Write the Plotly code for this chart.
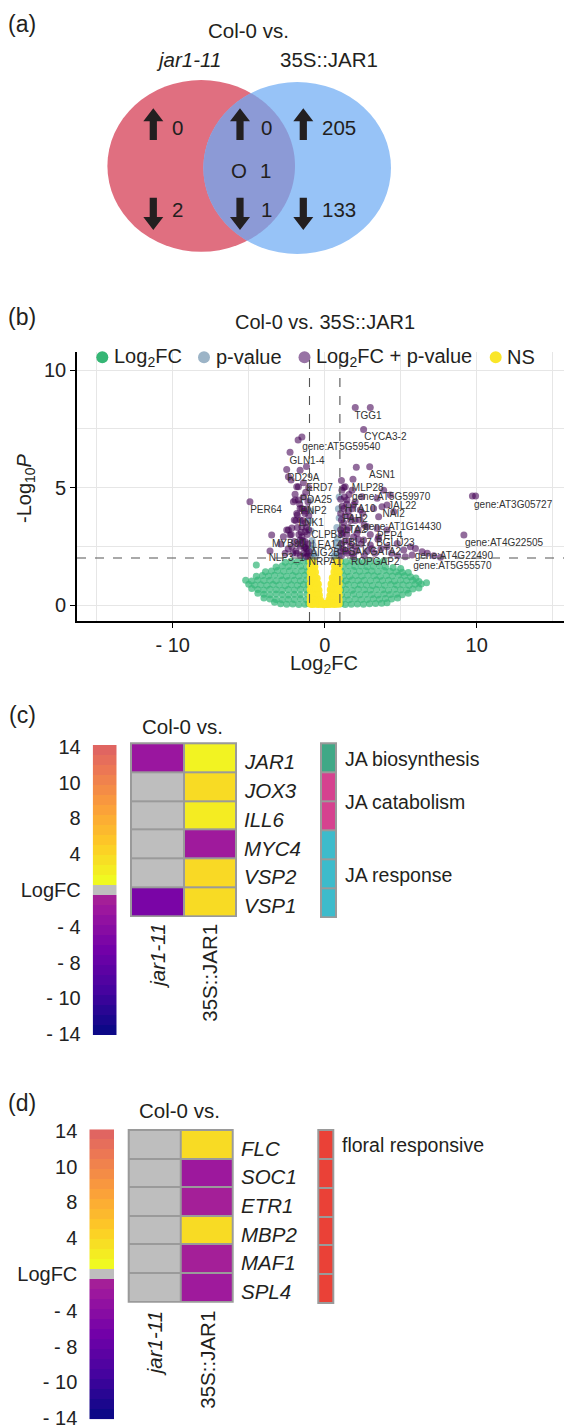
import math
import plotly.graph_objects as go

W, H = 572, 1427
OFF = 8  # browser body margin
FONT = "Liberation Sans, Arial, Helvetica, sans-serif"
INK = "#231F20"


def px(x):
    return (x - OFF) / W


def py(y):
    return 1 - (y - OFF) / H


# ======================= DATA =======================
# (a) Venn counts: [jar1-11 only, shared, 35S::JAR1 only]
VENN_TITLE = "Col-0 vs."
VENN_GROUPS = ["jar1-11", "35S::JAR1"]
VENN_UP = [0, 0, 205]
VENN_DOWN = [2, 1, 133]
VENN_OPPOSITE = 1

# (b) volcano  (log2FC, -log10 P)
FC_CUTOFF = 1.0
P_CUTOFF = 2.0
GREEN_POINTS = [
    (-3.3, 0.12), (-2.9, 0.05), (-2.5, 0.03), (-2.1, 0.04), (-1.7, 0.02), (-1.3, 0.03), (-1.05, 0.06),
    (1.05, 0.05), (1.35, 0.02), (1.75, 0.03), (2.15, 0.04), (2.55, 0.03), (2.95, 0.05), (3.35, 0.06), (3.75, 0.08), (4.1, 0.1),
    (-4.0, 0.3), (-3.6, 0.26), (-3.2, 0.24), (-2.8, 0.22), (-2.4, 0.25), (-2.0, 0.23), (-1.6, 0.27), (-1.2, 0.24),
    (1.2, 0.25), (1.6, 0.22), (2.0, 0.26), (2.4, 0.24), (2.8, 0.23), (3.2, 0.27), (3.6, 0.25), (4.0, 0.28), (4.4, 0.26), (4.8, 0.3),
    (-4.4, 0.5), (-4.0, 0.46), (-3.6, 0.44), (-3.2, 0.47), (-2.8, 0.45), (-2.4, 0.43), (-2.0, 0.46), (-1.6, 0.44), (-1.15, 0.47),
    (1.1, 0.45), (1.5, 0.43), (1.9, 0.47), (2.3, 0.44), (2.7, 0.46), (3.1, 0.45), (3.5, 0.43), (3.9, 0.47), (4.3, 0.45), (4.7, 0.46), (5.1, 0.44), (5.5, 0.5),
    (-4.8, 0.7), (-4.4, 0.66), (-4.0, 0.64), (-3.6, 0.67), (-3.2, 0.65), (-2.8, 0.63), (-2.4, 0.66), (-2.0, 0.64), (-1.6, 0.67), (-1.2, 0.65),
    (1.05, 0.64), (1.4, 0.66), (1.8, 0.63), (2.2, 0.67), (2.6, 0.65), (3.0, 0.64), (3.4, 0.66), (3.8, 0.65), (4.2, 0.63), (4.6, 0.67),
    (5.0, 0.65), (5.4, 0.64), (5.8, 0.68), (6.2, 0.72),
    (-5.0, 0.88), (-4.6, 0.85), (-4.2, 0.86), (-3.8, 0.84), (-3.4, 0.87), (-3.0, 0.85), (-2.6, 0.83), (-2.2, 0.86), (-1.8, 0.84), (-1.4, 0.87), (-1.05, 0.85),
    (1.15, 0.85), (1.55, 0.87), (1.95, 0.84), (2.35, 0.86), (2.75, 0.85), (3.15, 0.83), (3.55, 0.86), (3.95, 0.84), (4.35, 0.87), (4.75, 0.85),
    (5.15, 0.86), (5.55, 0.84), (5.95, 0.88), (6.35, 0.9), (6.7, 0.95),
    (-5.2, 1.05), (-4.8, 1.02), (-4.4, 1.06), (-4.0, 1.04), (-3.6, 1.05), (-3.2, 1.03), (-2.8, 1.06), (-2.4, 1.04), (-2.0, 1.05), (-1.6, 1.03), (-1.2, 1.06),
    (1.05, 1.05), (1.4, 1.03), (1.8, 1.06), (2.2, 1.04), (2.6, 1.05), (3.0, 1.03), (3.4, 1.06), (3.8, 1.04), (4.2, 1.05), (4.6, 1.02),
    (5.0, 1.06), (5.4, 1.04), (5.8, 1.05), (6.2, 1.0),
    (-4.5, 1.22), (-4.1, 1.26), (-3.7, 1.24), (-3.3, 1.27), (-2.9, 1.25), (-2.5, 1.23), (-2.1, 1.26), (-1.7, 1.24), (-1.3, 1.27),
    (1.25, 1.25), (1.65, 1.23), (2.05, 1.26), (2.45, 1.24), (2.85, 1.27), (3.25, 1.25), (3.65, 1.23), (4.05, 1.26), (4.45, 1.24),
    (4.85, 1.27), (5.25, 1.25), (5.65, 1.2), (6.0, 1.15),
    (-3.9, 1.42), (-3.5, 1.45), (-3.1, 1.47), (-2.7, 1.44), (-2.3, 1.46), (-1.9, 1.43), (-1.5, 1.46), (-1.1, 1.44),
    (1.1, 1.45), (1.5, 1.43), (1.9, 1.47), (2.3, 1.44), (2.7, 1.46), (3.1, 1.45), (3.5, 1.43), (3.9, 1.47), (4.3, 1.44), (4.7, 1.42), (5.1, 1.4), (5.5, 1.38),
    (-4.5, 1.7), (-3.2, 1.62), (-2.8, 1.66), (-2.4, 1.64), (-2.0, 1.67), (-1.6, 1.65), (-1.2, 1.63),
    (1.2, 1.65), (1.6, 1.67), (2.0, 1.64), (2.4, 1.66), (2.8, 1.63), (3.2, 1.65), (3.6, 1.67), (4.0, 1.62), (4.5, 1.6), (5.0, 1.55),
    (-2.6, 1.82), (-2.2, 1.86), (-1.8, 1.84), (-1.4, 1.87), (-1.05, 1.85),
    (1.05, 1.86), (1.4, 1.84), (1.8, 1.87), (2.2, 1.85), (2.6, 1.83), (3.0, 1.86), (3.5, 1.84), (3.9, 1.88),
]
YELLOW_POINTS = [
    (-0.92, 1.9), (-0.78, 1.88), (0.78, 1.9), (0.92, 1.88),
    (-0.92, 1.65), (-0.8, 1.66), (-0.68, 1.63), (0.68, 1.64), (0.8, 1.65), (0.92, 1.66),
    (-0.92, 1.4), (-0.8, 1.42), (-0.64, 1.39), (0.64, 1.41), (0.8, 1.4), (0.92, 1.38),
    (-0.92, 1.15), (-0.8, 1.14), (-0.66, 1.16), (-0.53, 1.13), (0.53, 1.15), (0.66, 1.14), (0.8, 1.16), (0.92, 1.15),
    (-0.92, 0.9), (-0.8, 0.91), (-0.66, 0.89), (-0.54, 0.9), (-0.45, 0.88), (0.45, 0.9), (0.54, 0.89), (0.66, 0.91), (0.8, 0.9), (0.92, 0.88),
    (-0.92, 0.65), (-0.8, 0.66), (-0.66, 0.64), (-0.53, 0.65), (-0.41, 0.63), (0.4, 0.65), (0.53, 0.64), (0.66, 0.66), (0.8, 0.65), (0.92, 0.64),
    (-0.92, 0.4), (-0.8, 0.41), (-0.66, 0.39), (-0.52, 0.4), (-0.38, 0.42), (0.37, 0.4), (0.52, 0.41), (0.66, 0.39), (0.8, 0.4), (0.92, 0.42),
    (-0.92, 0.2), (-0.8, 0.21), (-0.66, 0.19), (-0.52, 0.2), (-0.4, 0.21), (-0.3, 0.19), (0.3, 0.2), (0.4, 0.19), (0.52, 0.21), (0.66, 0.2), (0.8, 0.19), (0.92, 0.21),
    (-0.92, 0.05), (-0.8, 0.04), (-0.66, 0.06), (-0.52, 0.05), (-0.4, 0.04), (-0.28, 0.06), (-0.16, 0.05), (-0.05, 0.03),
    (0.05, 0.04), (0.16, 0.05), (0.28, 0.04), (0.4, 0.06), (0.52, 0.05), (0.66, 0.04), (0.8, 0.06), (0.92, 0.05),
]
BLUE_POINTS = [
    (-0.95, 2.1), (-0.88, 2.4), (-0.83, 2.75), (-0.9, 3.15), (-0.95, 3.6), (-0.72, 2.2), (-0.62, 2.05), (-0.9, 4.0), (-0.78, 2.55), (-0.95, 4.45),
    (0.95, 2.1), (0.9, 2.45), (0.85, 2.85), (0.8, 3.3), (0.95, 3.7), (0.72, 2.2), (0.9, 4.1), (0.78, 2.65), (0.62, 2.08), (0.95, 4.6),
]
PURPLE_POINTS = [
    (2.01, 8.41), (3.0, 8.41), (2.56, 7.47), (-1.75, 7.02), (-1.5, 7.15), (-2.28, 6.5), (-2.5, 5.77), (-1.62, 5.74),
    (-2.21, 5.32), (2.08, 5.86), (2.96, 5.89), (1.86, 5.35),
    (-4.92, 4.4), (9.72, 4.64), (9.93, 4.64), (9.16, 2.98), (-3.49, 2.98), (-3.6, 2.3), (7.18, 2.1),
    (-1.84, 5.03), (-1.95, 4.72), (-2.06, 4.4), (-1.73, 4.47), (-1.62, 4.11), (-1.8, 3.83), (-2.0, 3.62), (-2.39, 3.19),
    (-2.16, 3.28), (-1.5, 3.33), (-2.72, 2.91), (-2.5, 3.19),
    (1.35, 5.03), (1.13, 4.89), (1.8, 4.89), (2.45, 4.61), (3.45, 4.54), (3.88, 4.89), (1.46, 4.47), (1.9, 4.26), (1.24, 4.11),
    (2.34, 4.04), (3.22, 4.11), (3.55, 3.76), (4.1, 4.26), (1.68, 3.76), (1.1, 3.62), (2.34, 3.62), (2.79, 3.33), (3.45, 3.26),
    (4.1, 3.19), (1.46, 3.19), (1.1, 3.05),
    (3.77, 4.18), (4.32, 4.68), (4.54, 3.97), (3.55, 2.91), (5.64, 2.48), (6.41, 2.27), (7.62, 2.03), (5.2, 2.34), (5.97, 2.41),
    (4.77, 2.62), (4.1, 2.48), (3.0, 2.55), (2.56, 2.77), (2.12, 3.05), (6.75, 2.2), (5.75, 2.13),
    (-2.28, 2.98), (-2.16, 2.48), (-1.84, 2.2), (-1.62, 2.77), (-1.84, 3.9), (-1.62, 3.62), (-1.29, 3.12), (-1.29, 2.48),
    (-1.18, 2.2), (-1.5, 4.11), (-1.95, 4.47), (-2.39, 5.46), (-1.73, 5.03),
    (-1.1, 2.1), (-1.2, 2.4), (-1.3, 2.7), (-1.15, 3.0), (-1.4, 2.2), (-1.6, 2.5), (-1.7, 3.0), (-1.25, 3.5), (-1.05, 3.8),
    (-1.35, 4.0), (-1.1, 4.4), (-1.9, 2.3), (-2.0, 2.7), (-2.4, 2.4), (-2.6, 2.2), (-1.5, 2.9), (-1.8, 3.3), (-1.2, 2.05),
    (-2.9, 2.6), (-1.45, 3.6),
    (-1.05, 2.3), (-1.1, 2.6), (-1.05, 3.2), (-1.2, 3.3), (-1.3, 3.9), (-1.15, 4.1), (-1.4, 4.6), (-1.6, 2.1), (-1.75, 2.6),
    (-1.35, 2.45), (-1.45, 2.75), (-1.55, 3.1), (-1.9, 3.6), (-2.2, 3.0), (-2.1, 2.2), (-1.65, 4.3), (-1.25, 4.8), (-1.05, 5.0),
    (-1.4, 5.2), (-1.2, 5.9),
    (1.1, 2.1), (1.2, 2.4), (1.3, 2.7), (1.15, 3.0), (1.5, 2.2), (1.7, 2.5), (1.9, 2.9), (1.25, 3.5), (1.05, 3.9), (1.45, 4.3),
    (2.1, 2.3), (2.4, 2.6), (2.8, 2.3), (3.3, 2.2), (3.7, 2.4), (4.4, 2.2), (1.6, 3.3), (2.0, 3.6), (1.3, 4.6), (1.1, 5.3),
    (2.5, 3.9), (3.0, 3.0), (1.8, 4.1), (4.8, 2.1), (5.3, 2.05),
    (1.05, 2.3), (1.1, 2.6), (1.05, 3.2), (1.2, 3.3), (1.35, 3.8), (1.15, 4.2), (1.4, 2.3), (1.6, 2.7), (1.45, 3.0), (1.8, 2.2),
    (2.0, 2.5), (2.2, 2.8), (1.7, 3.6), (2.2, 3.2), (2.6, 3.4), (1.55, 4.0), (1.25, 5.0), (1.6, 4.7), (2.0, 4.4), (1.05, 4.5),
    (1.9, 2.05), (2.6, 2.1), (3.1, 2.4), (3.5, 2.8),
]
GENE_LABELS = [
    ("TGG1", 2.85, 8.04), ("CYCA3-2", 3.99, 7.11), ("gene:AT5G59540", 1.09, 6.69), ("GLN1-4", -1.16, 6.1),
    ("RD29A", -1.4, 5.39), ("ASN1", 3.78, 5.53), ("MLP28", 2.83, 4.97), ("ERD7", -0.34, 4.97),
    ("gene:AT5G59970", 4.37, 4.58), ("PER64", -3.86, 4.01), ("gene:AT3G05727", 12.4, 4.23), ("JAL22", 5.1, 4.21),
    ("NAI2", 4.54, 3.86), ("HTA10", 2.34, 4.07), ("PNP2", -0.74, 4.0), ("PDA25", -0.56, 4.47), ("FAH2", 2.01, 3.65),
    ("LNK1", -0.89, 3.45), ("gene:AT1G14430", 5.1, 3.31), ("LTA2", 2.01, 3.19), ("gene:AT4G22505", 11.8, 2.6),
    ("PEP4", 4.28, 2.91), ("CLPB3", 0.15, 2.98), ("MYB90", -2.39, 2.58), ("FBL17", 2.13, 2.6), ("BGLU23", 4.65, 2.6),
    ("LEA14", 0.15, 2.52), ("PSAK", 2.01, 2.23), ("GATA2", 3.99, 2.23), ("AIG2B", 0.03, 2.2),
    ("gene:AT4G22490", 8.5, 2.06), ("NLP3_1", -2.5, 1.96), ("NRPA1", 0.03, 1.8), ("ROPGAP2", 3.33, 1.8),
    ("gene:AT5G55570", 8.4, 1.63),
]
VOLCANO_TITLE = "Col-0 vs. 35S::JAR1"
LEGEND_NAMES = ["Log<sub>2</sub>FC", "p-value", "Log<sub>2</sub>FC + p-value", "NS"]
X_TICKVALS = [-10, 0, 10]
X_TICKTEXT = ["- 10", "0", "10"]
Y_TICKVALS = [0, 5, 10]

# (c) / (d) heatmaps (logFC, 0 = not significant)
HEAT_COLS = ["jar1-11", "35S::JAR1"]
GENES_C = ["JAR1", "JOX3", "ILL6", "MYC4", "VSP2", "VSP1"]
HEAT_Z_C = [[-2.2, 1.5], [0, 3.3], [0, 2.0], [0, -1.6], [0, 3.5], [-5.2, 3.3]]
ROW_CAT_C = ["JA biosynthesis", "JA catabolism", "JA catabolism", "JA response", "JA response", "JA response"]
GENES_D = ["FLC", "SOC1", "ETR1", "MBP2", "MAF1", "SPL4"]
HEAT_Z_D = [[0, 3.3], [0, -1.9], [0, -1.0], [0, 3.3], [0, -1.0], [0, -1.6]]
ROW_CAT_D = ["floral responsive"] * 6
CAT_COLORS = {"JA biosynthesis": "#40A886", "JA catabolism": "#D5428F",
              "JA response": "#3DBBCB", "floral responsive": "#EA4137"}
CB_LEVELS = [-14, -13, -12, -11, -10, -9, -8, -7, -6, -5, -4, -3, -2, -1, 0,
             1, 2, 3, 4, 5, 6, 7, 8, 9, 10, 11, 12, 13, 14]
CB_TICKTEXT = ["14", "10", "8", "4", "LogFC", "- 4", "- 8", "- 10", "- 14"]
CB_TICKPOS = [14.3, 10.75, 7.2, 3.6, 0, -3.65, -7.25, -10.8, -14.4]

# ======================= COLOURS =======================
PLASMA = ["#0d0887", "#46039f", "#7201a8", "#9c179e", "#bd3786",
          "#d8576b", "#ed7953", "#fb9f3a", "#fdca26", "#f0f921"]


def hex2rgb(h):
    h = h.lstrip("#")
    return [int(h[i:i + 2], 16) for i in (0, 2, 4)]


def plasma(t):
    t = max(0.0, min(1.0, t))
    pos = t * (len(PLASMA) - 1)
    i = min(int(pos), len(PLASMA) - 2)
    f = pos - i
    a, b = hex2rgb(PLASMA[i]), hex2rgb(PLASMA[i + 1])
    c = [round(a[k] + (b[k] - a[k]) * f) for k in range(3)]
    return "rgb(%d,%d,%d)" % tuple(c)


ZMIN, ZMAX = -14.5, 14.5
GRAY = "#BEBEBE"


def norm(v):
    return (v - ZMIN) / (ZMAX - ZMIN)


CS = []
for v in [-14.5] + list(range(-14, 0)) + [-0.51]:
    t = 0.36 * (v + 14) / 13
    CS.append([norm(v), plasma(min(0.36, max(0.0, t)))])
CS.append([norm(-0.5), GRAY])
CS.append([norm(0.5), GRAY])
for v in [0.51] + list(range(1, 15)) + [14.5]:
    t = 1 - 0.4 * (max(v, 1) - 1) / 13
    CS.append([norm(v), plasma(max(0.6, t))])
CS[0][0] = 0.0
CS[-1][0] = 1.0

fig = go.Figure()


# ======================= (b) volcano =======================
def add_pts(pts, color, opacity, size=7):
    fig.add_trace(go.Scatter(
        x=[p[0] for p in pts], y=[p[1] for p in pts], mode="markers",
        marker=dict(color=color, size=size, opacity=opacity, line=dict(width=0)),
        xaxis="x", yaxis="y", showlegend=False, hoverinfo="skip"))


add_pts(GREEN_POINTS, "#35B779", 0.72)
add_pts(YELLOW_POINTS, "#FDE725", 0.95, 8)
add_pts(BLUE_POINTS, "#31688E", 0.45)
add_pts(PURPLE_POINTS, "#440154", 0.58)
fig.add_trace(go.Scatter(
    x=[g[1] for g in GENE_LABELS], y=[g[2] for g in GENE_LABELS],
    text=[g[0] for g in GENE_LABELS], mode="text",
    textfont=dict(family=FONT, size=10, color="#333333"),
    xaxis="x", yaxis="y", showlegend=False, hoverinfo="skip"))


# ======================= heatmaps =======================
def heat_block(genes, z, rowcat, xa, ya, xcb, ycb, xc, yc):
    fig.add_trace(go.Heatmap(x=HEAT_COLS, y=genes, z=z, colorscale=CS, zmin=ZMIN, zmax=ZMAX,
                             showscale=False, xgap=2, ygap=2, xaxis=xa, yaxis=ya, hoverinfo="skip"))
    fig.add_trace(go.Heatmap(x=[0], y=CB_LEVELS, z=[[v] for v in CB_LEVELS], colorscale=CS,
                             zmin=ZMIN, zmax=ZMAX, showscale=False, xaxis=xcb, yaxis=ycb, hoverinfo="skip"))
    cats = list(dict.fromkeys(rowcat))
    idx = [cats.index(c) for c in rowcat]
    n = max(len(cats) - 1, 1)
    cscale = [[i / n, CAT_COLORS[c]] for i, c in enumerate(cats)]
    if len(cats) == 1:
        cscale.append([1.0, CAT_COLORS[cats[0]]])
    fig.add_trace(go.Heatmap(x=[0], y=list(range(len(rowcat))), z=[[i] for i in idx],
                             colorscale=cscale, zmin=0, zmax=n, showscale=False,
                             xgap=2, ygap=2, xaxis=xc, yaxis=yc, hoverinfo="skip"))
    return cats, idx


cats_c, idx_c = heat_block(GENES_C, HEAT_Z_C, ROW_CAT_C, "x2", "y2", "x3", "y3", "x4", "y4")
cats_d, idx_d = heat_block(GENES_D, HEAT_Z_D, ROW_CAT_D, "x5", "y5", "x6", "y6", "x7", "y7")

# ======================= layout =======================
hidden = dict(showticklabels=False, showgrid=False, zeroline=False, showline=False, ticks="")
grid = "#E6E6E6"
TICK_FONT = dict(size=20, color="#222")
cb_axis = dict(range=[-14.5, 14.5], tickmode="array", tickvals=CB_TICKPOS, ticktext=CB_TICKTEXT,
               showgrid=False, zeroline=False, showline=False, ticks="",
               ticklabelstandoff=11, tickfont=TICK_FONT)
layout = dict(
    width=W, height=H, margin=dict(l=0, r=0, t=0, b=0, autoexpand=False),
    paper_bgcolor="white", plot_bgcolor="white", showlegend=False,
    font=dict(family=FONT, color=INK, size=20),
    xaxis=dict(domain=[px(77), px(580)], range=[-16.3, 16.8], anchor="y",
               tickmode="array", tickvals=X_TICKVALS, ticktext=X_TICKTEXT,
               showgrid=True, gridcolor=grid, gridwidth=1, zeroline=False,
               showline=True, linecolor="black", linewidth=1.6,
               ticks="outside", ticklen=5, tickwidth=1.4, tickcolor="black",
               tickfont=TICK_FONT,
               minor=dict(tickmode="array", tickvals=[-15, -5, 5, 15], showgrid=True,
                          gridcolor=grid, gridwidth=1, ticks="")),
    yaxis=dict(domain=[py(621), py(352)], range=[-0.68, 10.77], anchor="x",
               tickmode="array", tickvals=Y_TICKVALS,
               showgrid=True, gridcolor=grid, gridwidth=1, zeroline=False,
               showline=True, linecolor="black", linewidth=1.6,
               ticks="outside", ticklen=5, tickwidth=1.4, tickcolor="black",
               tickfont=TICK_FONT,
               minor=dict(tickmode="array", tickvals=[2.5, 7.5], showgrid=True,
                          gridcolor=grid, gridwidth=1, ticks="")),
    # (c)
    xaxis2=dict(domain=[px(131), px(236)], anchor="y2", range=[-0.5, 1.5], **hidden),
    yaxis2=dict(domain=[py(916), py(743.3)], anchor="x2", range=[5.5, -0.5], **hidden),
    xaxis3=dict(domain=[px(92.7), px(116.7)], anchor="y3", **hidden),
    yaxis3=dict(domain=[py(1035), py(745)], anchor="x3", **cb_axis),
    xaxis4=dict(domain=[px(321), px(336)], anchor="y4", **hidden),
    yaxis4=dict(domain=[py(917), py(743.3)], anchor="x4", range=[5.5, -0.5], **hidden),
    # (d)
    xaxis5=dict(domain=[px(128.7), px(232.7)], anchor="y5", range=[-0.5, 1.5], **hidden),
    yaxis5=dict(domain=[py(1301.7), py(1130)], anchor="x5", range=[5.5, -0.5], **hidden),
    xaxis6=dict(domain=[px(89.3), px(114)], anchor="y6", **hidden),
    yaxis6=dict(domain=[py(1419.3), py(1129.3)], anchor="x6", **cb_axis),
    xaxis7=dict(domain=[px(318.3), px(333.3)], anchor="y7", **hidden),
    yaxis7=dict(domain=[py(1303), py(1130)], anchor="x7", range=[5.5, -0.5], **hidden),
)
fig.update_layout(**layout)

shapes = []
ann = []


def text(x, y, s, size=20, xanchor="center", yanchor="middle", **kw):
    ann.append(dict(x=px(x), y=py(y), xref="paper", yref="paper", text=s, showarrow=False,
                    xanchor=xanchor, yanchor=yanchor, font=dict(family=FONT, size=size, color=INK), **kw))


# ---------- (a) Venn ----------
RED = (201.2, 165.9, 93.8, 85.9)
BLUE = (297.2, 168.0, 93.8, 86.0)


def ell_shape(e, color):
    cx, cy, rx, ry = e
    return dict(type="circle", xref="paper", yref="paper", x0=px(cx - rx), x1=px(cx + rx),
                y0=py(cy + ry), y1=py(cy - ry), fillcolor=color, line=dict(width=0))


def inside(x, y, e):
    cx, cy, rx, ry = e
    return ((x - cx) / rx) ** 2 + ((y - cy) / ry) ** 2 <= 1.0


lens = []
for k in range(-90, 91):
    a = math.radians(k)
    x, y = RED[0] + RED[2] * math.cos(a), RED[1] + RED[3] * math.sin(a)
    if inside(x, y, BLUE):
        lens.append((x, y))
for k in range(90, 271):
    a = math.radians(k)
    x, y = BLUE[0] + BLUE[2] * math.cos(a), BLUE[1] + BLUE[3] * math.sin(a)
    if inside(x, y, RED):
        lens.append((x, y))
lens_path = "M " + " L ".join("%.5f,%.5f" % (px(x), py(y)) for x, y in lens) + " Z"

shapes.append(ell_shape(RED, "#E06F80"))
shapes.append(ell_shape(BLUE, "#97C3F7"))
shapes.append(dict(type="path", xref="paper", yref="paper", path=lens_path,
                   fillcolor="#8C9AD6", line=dict(width=0)))


def arrow(cx, top, bottom, up=True):
    hw, hh, sw = 10, 13, 3.6
    if up:
        pts = [(cx, top), (cx + hw, top + hh), (cx + sw, top + hh), (cx + sw, bottom),
               (cx - sw, bottom), (cx - sw, top + hh), (cx - hw, top + hh)]
    else:
        pts = [(cx, bottom), (cx + hw, bottom - hh), (cx + sw, bottom - hh), (cx + sw, top),
               (cx - sw, top), (cx - sw, bottom - hh), (cx - hw, bottom - hh)]
    p = "M " + " L ".join("%.5f,%.5f" % (px(x), py(y)) for x, y in pts) + " Z"
    return dict(type="path", xref="paper", yref="paper", path=p, fillcolor=INK, line=dict(width=0))


ARROW_X = [153.3, 240.0, 303.3]
NUM_X = [169.5, 259.0, 320.0]
for i in range(3):
    shapes.append(arrow(ARROW_X[i], 108.3, 140.0, True))
    shapes.append(arrow(ARROW_X[i], 197.7, 230.0, False))
    text(NUM_X[i], 127, str(VENN_UP[i]), 20.5, xanchor="left")
    text(NUM_X[i], 210, str(VENN_DOWN[i]), 20.5, xanchor="left")
text(239, 170.7, "O", 20.5)
text(258, 170.7, str(VENN_OPPOSITE), 20.5, xanchor="left")
text(248, 30, VENN_TITLE, 20.5)
text(188, 59, "<i>%s</i>" % VENN_GROUPS[0], 20.5)
text(329, 59, VENN_GROUPS[1], 20.5)

# ---------- panel letters ----------
text(22, 24, "(a)", 23)
text(22, 317, "(b)", 23)
text(22, 715, "(c)", 23)
text(22, 1103, "(d)", 23)

# ---------- (b) decorations ----------
text(325, 322, VOLCANO_TITLE, 20)
LEG_DOT_X = [102.3, 204.0, 304.5, 495.7]
LEG_COLORS = ["#35B675", "#9CB4C7", "#9873A5", "#FAE628"]
for i, name in enumerate(LEGEND_NAMES):
    cx, cy, r = LEG_DOT_X[i], 357.3, 6.0
    shapes.append(dict(type="circle", xref="paper", yref="paper", x0=px(cx - r), x1=px(cx + r),
                       y0=py(cy + r), y1=py(cy - r), fillcolor=LEG_COLORS[i], line=dict(width=0)))
    text(cx + 9.5, cy, name, 20, xanchor="left")
text(324, 664, "Log<sub>2</sub>FC", 20)
text(25, 488, "-Log<sub>10</sub><i>P</i>", 20, textangle=-90)

# cutoff lines
for xv in (-FC_CUTOFF, FC_CUTOFF):
    shapes.append(dict(type="line", xref="x", yref="y domain", x0=xv, x1=xv, y0=0, y1=1,
                       line=dict(color="#555555", width=1.1, dash="dash")))
shapes.append(dict(type="line", xref="x domain", yref="y", x0=0, x1=1, y0=P_CUTOFF, y1=P_CUTOFF,
                   line=dict(color="#555555", width=1.1, dash="dash")))


# ---------- (c)/(d) decorations ----------
def heat_deco(xa, ya, xc, yc, genes, cats, idx, head_xy, col_top, label_first_row=False):
    for r in ((xa, ya), (xc, yc)):
        shapes.append(dict(type="rect", xref=r[0] + " domain", yref=r[1] + " domain",
                           x0=0, x1=1, y0=0, y1=1, fillcolor="#9A9A9A",
                           line=dict(color="#9A9A9A", width=2), layer="below"))
    for g in genes:
        ann.append(dict(x=1, y=g, xref=xa + " domain", yref=ya, text="<i>%s</i>" % g, showarrow=False,
                        xanchor="left", yanchor="middle", xshift=6, yshift=-4,
                        font=dict(family=FONT, size=20.5, color=INK)))
    for c in cats:
        rows = [i for i, k in enumerate(idx) if cats[k] == c]
        yc_val = rows[0] if label_first_row else sum(rows) / len(rows)
        ann.append(dict(x=1, y=yc_val, xref=xc + " domain", yref=yc, text=c,
                        showarrow=False, xanchor="left", yanchor="middle", xshift=7, yshift=-1,
                        font=dict(family=FONT, size=19.5, color=INK)))
    for j, col in enumerate(HEAT_COLS):
        lab = "<i>%s</i>" % col if j == 0 else col
        ann.append(dict(x=col, y=py(col_top), xref=xa, yref="paper", text=lab, showarrow=False,
                        textangle=-90, xanchor="center", yanchor="top",
                        font=dict(family=FONT, size=20.5, color=INK)))
    text(head_xy[0], head_xy[1], "Col-0 vs.", 20.5)


heat_deco("x2", "y2", "x4", "y4", GENES_C, cats_c, idx_c, (182, 726.7), 922)
heat_deco("x5", "y5", "x7", "y7", GENES_D, cats_d, idx_d, (179, 1110), 1309, label_first_row=True)

fig.update_layout(shapes=shapes, annotations=ann)
fig.write_html("out.html")
